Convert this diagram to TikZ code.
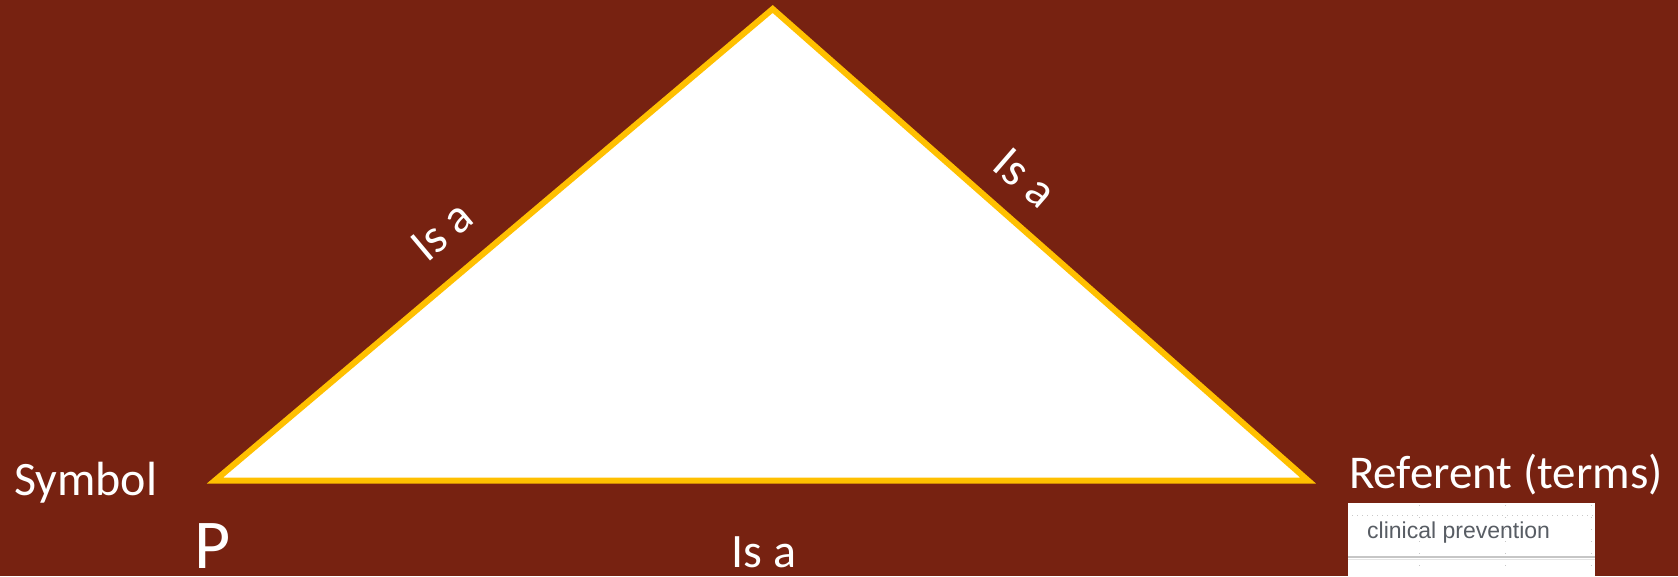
\documentclass[tikz,border=0pt]{standalone}
\usepackage{fontspec}
\setmainfont{Carlito}
\newfontfamily\shotfont{Liberation Sans}
\definecolor{slidered}{RGB}{119,34,17}
\definecolor{edgegold}{RGB}{255,192,0}
\definecolor{shotgray}{RGB}{88,93,100}
\definecolor{dotgray}{RGB}{200,200,200}

\begin{document}
\begin{tikzpicture}[
    x=1pt, y=-1pt,
    lbl/.style={text=white, inner sep=0pt, font=\fontsize{48}{52}\selectfont},
    biglbl/.style={lbl, font=\fontsize{70}{76}\selectfont},
    side/.style={fill=white, draw=edgegold, line width=6pt, line join=miter},
    shotdots/.style={dotgray, line width=1pt, dash pattern=on 1pt off 4pt},
    shotcols/.style={dotgray, line width=1pt, dash pattern=on 1pt off 11pt}
  ]
    % slide background
    \fill[slidered] (0,0) rectangle (1678,576);
    \useasboundingbox (0,0) rectangle (1678,576);

    % corners of the triangle
    \coordinate (apex) at (772.7,9);
    \coordinate (sym) at (215,480.5);
    \coordinate (ref) at (1308,480.5);
    \filldraw[side] (sym) -- (apex) -- (ref) -- cycle;

    \node[lbl, anchor=base west] (symbol) at (14,495) {Symbol};
    \node[biglbl, anchor=base west] (p) at (194,568) {P};
    \node[lbl, anchor=base west, font=\fontsize{47}{51}\selectfont] (referent) at (1349,488) {Referent (terms)};
    \node[lbl, anchor=base] (isabottom) at (764,567) {Is a};
    \node[lbl, rotate=40] (isaleft) at (442,231) {Is a};
    \node[lbl, rotate=-41] (isaright) at (1025,178) {Is a};

    % screenshot piece under the referent
    \fill[white] (1348,503) rectangle (1595,576);
    \draw[shotdots] (1352,515) -- (1593,515);
    \foreach \gx in {1419,1505,1591}
      \draw[shotcols] (\gx,505) -- (\gx,576);
    \draw[gray!45, line width=2pt] (1348,557) -- (1595,557);
    \draw[gray!20, line width=1pt] (1348,559.5) -- (1595,559.5);
    \node[text=shotgray, inner sep=0pt, anchor=base west,
          font=\shotfont\fontsize{23}{26}\selectfont] (term) at (1367,538) {clinical prevention};
  \end{tikzpicture}
\end{document}
